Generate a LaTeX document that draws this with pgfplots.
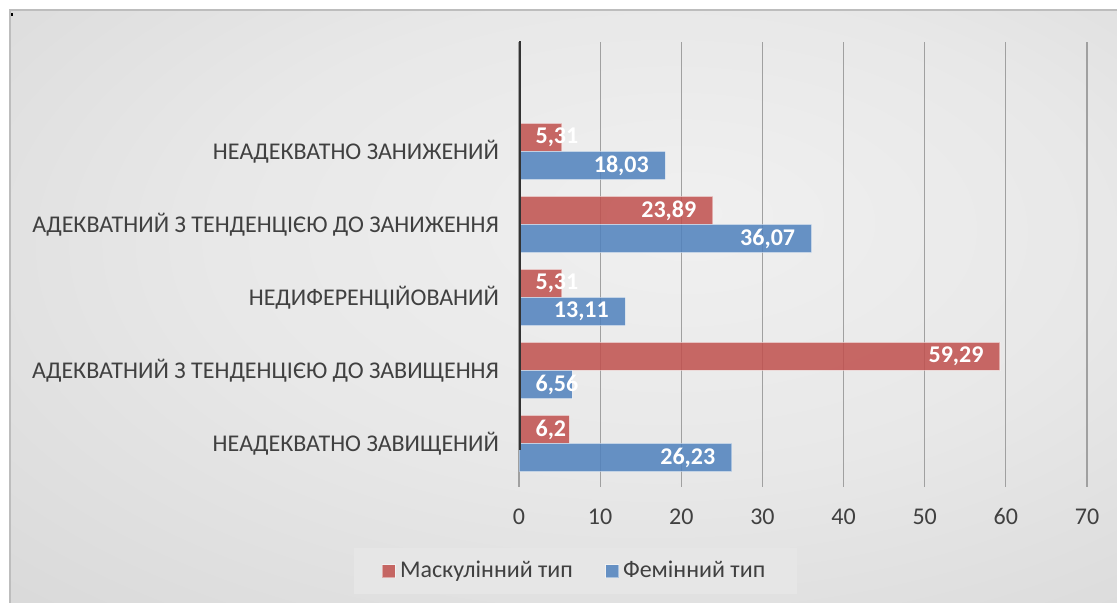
\documentclass[border=0pt]{standalone}
\usepackage{pgfplots}
\pgfplotsset{compat=1.18}
\usepackage{fontspec}
\setmainfont{Carlito}
\definecolor{masc}{HTML}{C0504D}
\definecolor{fem}{HTML}{4F81BD}
\definecolor{txt}{HTML}{404040}
\definecolor{axc}{HTML}{333333}
\definecolor{gridc}{HTML}{A0A0A0}
\definecolor{legbg}{HTML}{E6E6E6}
\definecolor{borderc}{HTML}{BDBDBD}
\definecolor{bgA}{HTML}{F0F0F0}
\definecolor{bgB}{HTML}{E8E8E8}
\definecolor{bgC}{HTML}{D6D6D6}
\definecolor{bgD}{HTML}{C4C4C4}
\pgfdeclareradialshading{bgshade}{\pgfpoint{6bp}{8bp}}{color(0bp)=(bgA); color(20bp)=(bgB); color(45bp)=(bgC); color(75bp)=(bgD)}
\begin{document}
\begin{tikzpicture}[x=1pt,y=1pt]
\shade[shading=bgshade] (5,0) rectangle (558.5,296.5);
\draw[borderc, line width=0.6pt] (5,0) -- (5,296.5) -- (558.5,296.5);
\fill[black] (5.6,293.4) rectangle (6.7,295.0);
\begin{axis}[
  at={(259.5pt,61.5pt)}, anchor=south west,
  scale only axis, width=284pt, height=219pt,
  xmin=0, xmax=70, ymin=-0.5, ymax=5.5,
  xtick={0,10,...,70}, ytick={0,1,2,3,4},
  yticklabels={НЕАДЕКВАТНО ЗАВИЩЕНИЙ, АДЕКВАТНИЙ З ТЕНДЕНЦІЄЮ ДО ЗАВИЩЕННЯ, НЕДИФЕРЕНЦІЙОВАНИЙ, АДЕКВАТНИЙ З ТЕНДЕНЦІЄЮ ДО ЗАНИЖЕННЯ, НЕАДЕКВАТНО ЗАНИЖЕНИЙ},
  axis line style={draw=none},
  xmajorgrids, grid style={gridc, line width=0.6pt},
  tick align=outside, xtick pos=bottom, ytick style={draw=none},
  xtick style={gridc, line width=0.6pt}, major tick length=3.5pt,
  /pgf/number format/assume math mode=true,
  xticklabel style={font=\fontsize{12}{14}\selectfont, text=txt, anchor=base, yshift=-19pt},
  yticklabel style={font=\fontsize{12}{14}\selectfont, text=txt, xshift=-3pt},
  bar width=0.384,
  point meta=x,
  visualization depends on={rawx \as \rawxval},
  nodes near coords={\pgfmathprintnumber[use comma]{\pgfplotspointmeta}},
  every node near coord/.append style={font=\bfseries\fontsize{12}{14}\selectfont, text=white, text opacity=1, inner sep=0pt},
  every node near coord/.append code={%
    \ifdim\rawxval pt<10pt
      \pgfmathsetmacro\myshift{8-\rawxval*4.05714}%
      \pgfkeysalso{anchor=west,xshift=\myshift pt}%
    \else
      \pgfkeysalso{anchor=east,xshift=-8pt}%
    \fi},
  legend columns=2,
  legend image code/.code={\draw[#1] (0pt,-3.25pt) rectangle (6.5pt,3.25pt);},
  legend style={at={(0.0995,-0.2078)}, anchor=center, fill=legbg, draw=none,
    font=\fontsize{12}{14}\selectfont, text=txt, inner xsep=14pt, inner ysep=4.5pt,
    /tikz/every even column/.append style={column sep=14pt}},
]
\addplot[xbar, bar shift=0.192, fill=masc, fill opacity=0.85, draw=white, draw opacity=0.45, line width=0.6pt,
  every node near coord/.append style={yshift=7pt}]
  coordinates {(6.2,0) (59.29,1) (5.31,2) (23.89,3) (5.31,4)};
\addlegendentry{Маскулінний тип}
\addplot[xbar, bar shift=-0.192, fill=fem, fill opacity=0.85, draw=white, draw opacity=0.45, line width=0.6pt,
  every node near coord/.append style={yshift=-7pt}]
  coordinates {(26.23,0) (6.56,1) (13.11,2) (36.07,3) (18.03,4)};
\addlegendentry{Фемінний тип}
\draw[axc, line width=2pt] (axis cs:0,-0.5) ++(0,-3.5pt) -- (axis cs:0,5.5) -- ++(0,1pt);
\end{axis}
\pgfresetboundingbox
\useasboundingbox (0,0) rectangle (558.5,301.5);
\end{tikzpicture}
\end{document}
